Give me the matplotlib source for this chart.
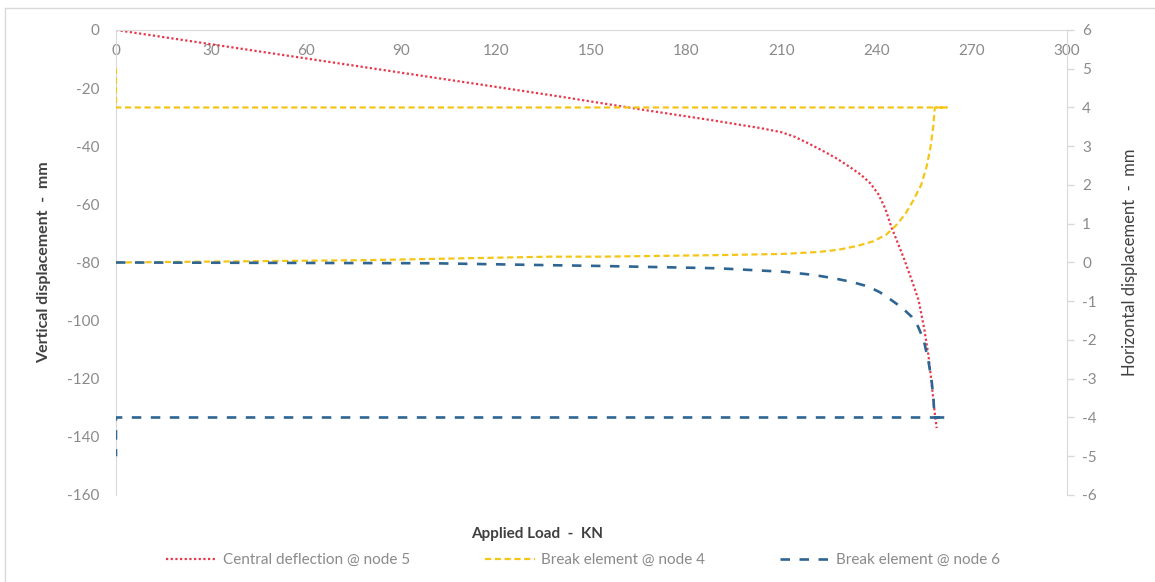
import numpy as np
import matplotlib
matplotlib.use('Agg')
import matplotlib.pyplot as plt
from matplotlib.lines import Line2D

plt.rcParams['font.family'] = ['Lato', 'DejaVu Sans']
plt.rcParams['axes.unicode_minus'] = False

# ———————————————— data
# central deflection @ node 5, left axis (mm)
load_c = [0, 30, 60, 90, 120, 140, 166.5, 187.7, 203.5, 210, 214, 218, 222.5, 227, 231,
          235, 238, 240.5, 242.7, 244.6, 246.7, 248.7, 251, 253.2, 255, 256.3, 257.3,
          258.2, 258.9]
defl_c = [0, -4.9, -9.8, -14.7, -19.6, -22.9, -27.5, -31, -33.8, -35.2, -36.7, -38.8,
          -41.3, -44, -46.8, -49.8, -52.8, -56.5, -61.5, -67.8, -73.5, -79, -86, -93,
          -103, -112, -121.5, -131, -137]

# break element @ node 4, right axis (mm)
load_4 = [0, 79, 137, 153, 190, 210, 221.5, 228, 234, 239, 243, 246, 249, 251.5, 254,
          255.8, 257, 257.8, 258.3, 262, 0, 0]
disp_4 = [0, 0.06, 0.15, 0.15, 0.19, 0.22, 0.27, 0.33, 0.43, 0.55, 0.72, 0.95, 1.25,
          1.6, 2.0, 2.5, 3.0, 3.5, 4, 4, 4, 5]

# break element @ node 6, right axis (mm)
load_6 = [0, 100, 137, 153, 190, 210.8, 220, 226.6, 232, 237.3, 241, 244.6, 248, 251,
          253, 254.8, 256.3, 257.3, 257.9, 258.2, 262, 0, 0]
disp_6 = [0, -0.02, -0.07, -0.09, -0.15, -0.24, -0.32, -0.41, -0.5, -0.62, -0.77, -0.97,
          -1.17, -1.4, -1.65, -2.0, -2.55, -3.05, -3.55, -4, -4, -4, -5]

x_ticks = np.arange(0, 301, 30)
yl_ticks = np.arange(-160, 1, 20)
yr_ticks = np.arange(-6, 7, 1)

labels = ['Central deflection @ node 5', 'Break element @ node 4', 'Break element @ node 6']

# ———————————————— styles
red = '#e8364a'
gold = '#f5c518'
blue = '#2f6592'
axis_grey = '#d9d9d9'
tick_grey = '#8a8a8a'
title_grey = '#404040'
red_ls = (0, (1, 1.1))
gold_ls = (0, (2.8, 1.6))
blue_ls = (0, (3.6, 3.6))

fig = plt.figure(figsize=(11.55, 5.82), dpi=100)
ax = fig.add_axes([0.1004, 0.1495, 0.8234, 0.799])
ax2 = ax.twinx()

ax.plot(load_c, defl_c, color=red, lw=1.6, linestyle=red_ls)
ax2.plot(load_4, disp_4, color=gold, lw=1.6, linestyle=gold_ls)
ax2.plot(load_6, disp_6, color=blue, lw=1.9, linestyle=blue_ls)

ax.set_xlim(0, 300)
ax.set_ylim(-160, 0)
ax2.set_ylim(-6, 6)

# spines
for s in ['top', 'right']:
    ax.spines[s].set_visible(False)
ax.spines['left'].set_color(axis_grey)
ax.spines['bottom'].set_position(('data', 0))
ax.spines['bottom'].set_color(axis_grey)
for s in ['top', 'left', 'bottom']:
    ax2.spines[s].set_visible(False)
ax2.spines['right'].set_color(axis_grey)

# ticks
ax.set_xticks(x_ticks)
ax.set_yticks(yl_ticks)
ax2.set_yticks(yr_ticks)
ax.tick_params(axis='x', length=0, pad=10, labelsize=11, labelcolor=tick_grey)
ax.tick_params(axis='y', length=0, pad=12, labelsize=11, labelcolor=tick_grey)
ax2.tick_params(axis='y', length=5, width=1, color=axis_grey, pad=6,
                labelsize=11, labelcolor=tick_grey)

# axis titles
ax.set_xlabel('Applied Load  -  KN', fontsize=11, fontweight='bold', color=title_grey)
ax.xaxis.set_label_coords(0.443, -0.069)
ax.set_ylabel('Vertical displacement  -  mm', fontsize=11.5, fontweight='bold',
              color=title_grey)
ax.yaxis.set_label_coords(-0.068, 0.5)
ax2.set_ylabel('Horizontal displacement  -  mm', fontsize=12, color=title_grey)
ax2.yaxis.set_label_coords(1.058, 0.5)

# legend
handles = [Line2D([], [], color=red, lw=1.6, linestyle=red_ls),
           Line2D([], [], color=gold, lw=1.6, linestyle=gold_ls),
           Line2D([], [], color=blue, lw=1.9, linestyle=blue_ls)]
fig.legend(handles, labels, loc='center', bbox_to_anchor=(0.505, 0.038), ncol=3,
           frameon=False, fontsize=11, handlelength=3.3, handletextpad=0.4,
           columnspacing=4.9, labelcolor=tick_grey)

# chart border (top and left edges visible)
fig.add_artist(Line2D([5 / 1155, 5 / 1155], [0, 1 - 8 / 582], color=axis_grey, lw=1,
                      transform=fig.transFigure))
fig.add_artist(Line2D([5 / 1155, 1], [1 - 8 / 582, 1 - 8 / 582], color=axis_grey, lw=1,
                      transform=fig.transFigure))

fig.savefig('out.png', dpi=100)
